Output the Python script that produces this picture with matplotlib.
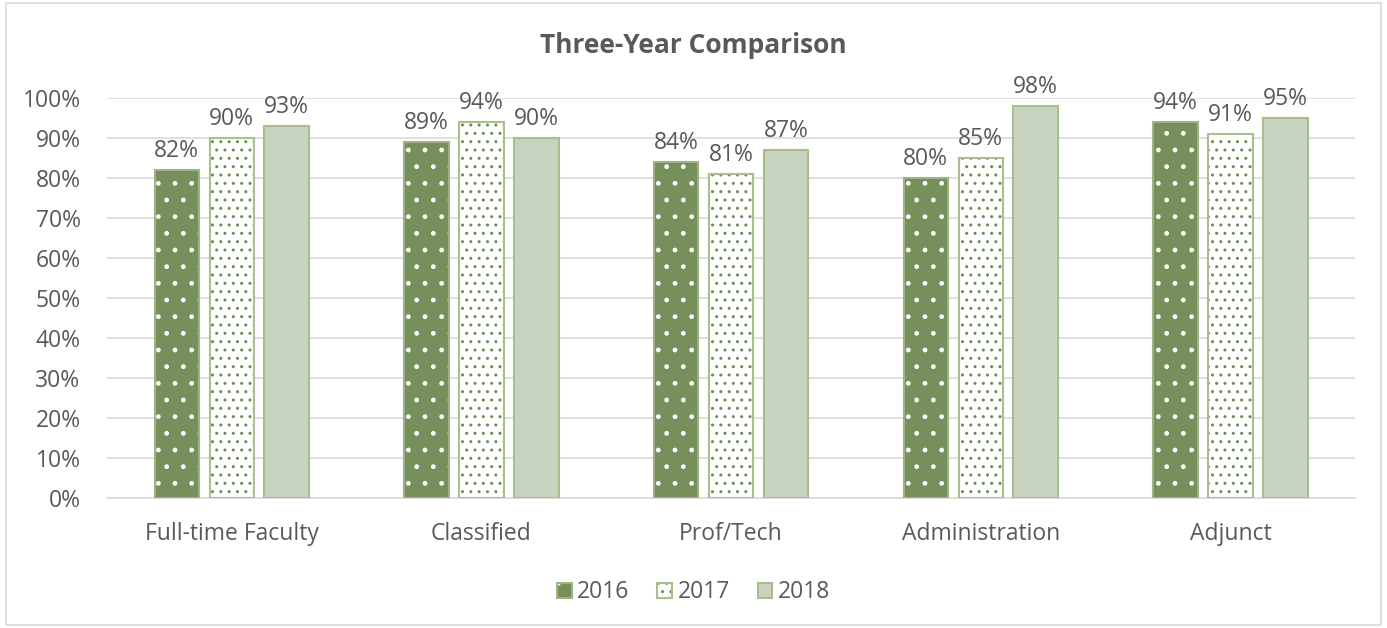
import matplotlib.pyplot as plt
import numpy as np
from matplotlib.colors import to_rgba
from matplotlib.patches import Patch, Rectangle

categories = ["Full-time Faculty", "Classified", "Prof/Tech", "Administration", "Adjunct"]
years = ["2016", "2017", "2018"]
values_2016 = [82, 89, 84, 80, 94]
values_2017 = [90, 94, 81, 85, 91]
values_2018 = [93, 90, 87, 98, 95]

TEXT = "#595959"
plt.rcParams["font.family"] = ["Open Sans", "DejaVu Sans"]
plt.rcParams["hatch.linewidth"] = 1.0

fig = plt.figure(figsize=(13.87, 6.28), dpi=100)
ax = fig.add_axes([0.0771, 0.207, 0.9, 0.637])

x = np.arange(len(categories))
width = 0.178
step = 0.22

styles = [
    dict(face="#76905B", hatch_col="white", edge="#9DB383", hatch="."),
    dict(face="white", hatch_col="#6E8C52", edge="#A9C08E", hatch=".."),
    dict(face="#C9D4C0", hatch_col=None, edge="#A9BD8E", hatch=None),
]
series = [values_2016, values_2017, values_2018]

for i, (vals, st) in enumerate(zip(series, styles)):
    pos = x + (i - 1) * step
    v = np.array(vals) / 100
    if st["hatch"]:
        ax.bar(pos, v, width, color=st["face"], edgecolor=st["hatch_col"],
               hatch=st["hatch"], linewidth=0, zorder=2)
    else:
        ax.bar(pos, v, width, color=st["face"], linewidth=0, zorder=2)
    ax.bar(pos, v, width, fill=False, edgecolor=st["edge"], linewidth=1.5, zorder=3)
    for p, val in zip(pos, vals):
        ax.annotate(f"{val}%", (p, val / 100), xytext=(0, 5), textcoords="offset points",
                    ha="center", va="bottom", fontsize=16.5, color=TEXT)

ax.set_xlim(-0.5, len(categories) - 0.5)
ax.set_ylim(0, 1)
ax.set_yticks(np.arange(0, 1.01, 0.1))
ax.set_yticklabels([f"{int(t)}%" for t in np.arange(0, 101, 10)])
ax.set_xticks(x)
ax.set_xticklabels(categories)
ax.tick_params(length=0, labelsize=16.5, labelcolor=TEXT)
ax.tick_params(axis="x", pad=17)
ax.tick_params(axis="y", pad=19)
ax.yaxis.grid(True, color="#D9D9D9", linewidth=1.2, zorder=0)
ax.set_axisbelow(True)
for s in ["top", "right", "left"]:
    ax.spines[s].set_visible(False)
ax.spines["bottom"].set_color("#D9D9D9")
ax.spines["bottom"].set_linewidth(1.2)

fig.text(0.5, 0.928, "Three-Year Comparison", ha="center", va="center",
         fontsize=19, fontweight="bold", color=TEXT)

handles = []
for y, st in zip(years, styles):
    h = Patch(facecolor=st["face"], edgecolor=st["edge"], linewidth=1.5,
              hatch=st["hatch"], label=y)
    if st["hatch_col"]:
        h._hatch_color = to_rgba(st["hatch_col"])
    handles.append(h)
leg = fig.legend(handles=handles, loc="center", bbox_to_anchor=(0.5, 0.057), ncol=3,
                 frameon=False, fontsize=16.5, handlelength=0.65, handleheight=0.65,
                 handletextpad=0.25, columnspacing=1.2)
for t in leg.get_texts():
    t.set_color(TEXT)

fig.patches.append(Rectangle((0.004, 0.005), 0.992, 0.99, transform=fig.transFigure,
                             fill=False, edgecolor="#D9D9D9", linewidth=1.2))

fig.savefig("out.png", dpi=100)
